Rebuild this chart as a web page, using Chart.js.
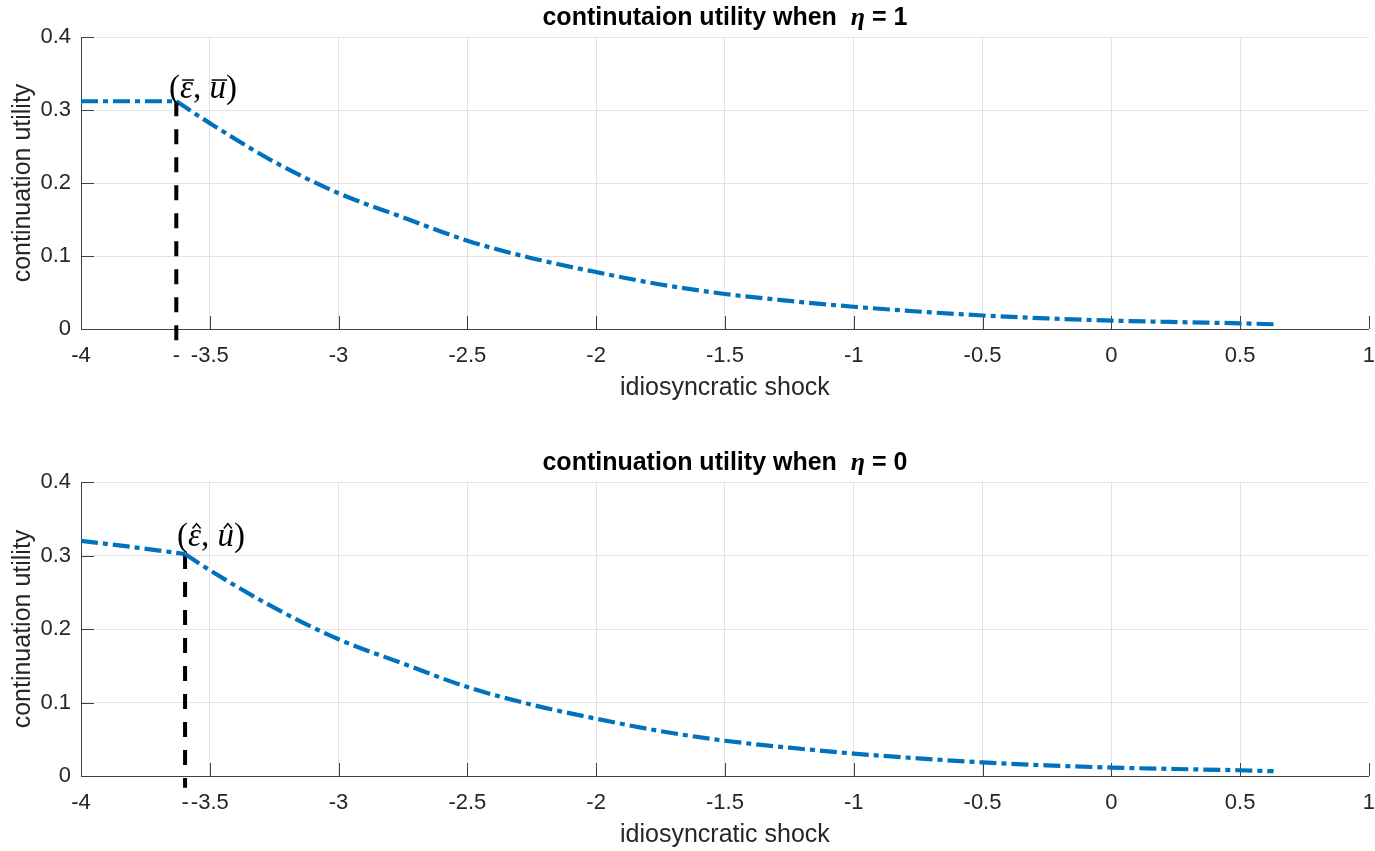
<!DOCTYPE html>
<html><head><meta charset="utf-8">
<script src="https://cdn.jsdelivr.net/npm/chart.js@4.4.0/dist/chart.umd.min.js"></script>
<style>
html,body{margin:0;padding:0;background:#fff;overflow:hidden;}
#wrap{position:relative;width:1375px;height:851px;overflow:hidden;background:#fff;}
.box{position:absolute;left:0;width:1389px;}
#b1{top:0;height:430px;}
#b2{top:430px;height:421px;}
</style></head><body>
<div id="wrap">
  <div class="box" id="b1"><canvas id="c1"></canvas></div>
  <div class="box" id="b2"><canvas id="c2"></canvas></div>
</div>
<script>
// ---- ticks ----
const xTicks = [-4, -3.5, -3, -2.5, -2, -1.5, -1, -0.5, 0, 0.5, 1];
const xTickLabels = ['-4', '-3.5', '-3', '-2.5', '-2', '-1.5', '-1', '-0.5', '0', '0.5', '1'];
const yTicks = [0, 0.1, 0.2, 0.3, 0.4];
const yTickLabels = ['0', '0.1', '0.2', '0.3', '0.4'];

// ---- top panel (eta = 1) ----
const topFlatX = [-4, -3.63];
const topFlatY = [0.312, 0.312];
const topCurveX = [-3.63, -3.5, -3.25, -3, -2.75, -2.5, -2.25, -2, -1.75, -1.5, -1.25, -1, -0.75, -0.5, -0.25, 0, 0.25, 0.5, 0.63];
const topCurveY = [0.312, 0.282, 0.229, 0.186, 0.153, 0.121, 0.097, 0.078, 0.061, 0.048, 0.0385, 0.0305, 0.024, 0.0185, 0.0145, 0.0115, 0.0095, 0.0078, 0.0065];
const topCutX = [-3.63, -3.63];
const topCutY = [0.312, -0.016];

// ---- bottom panel (eta = 0) ----
const botFlatX = [-4, -3.8, -3.596];
const botFlatY = [0.320, 0.3115, 0.302];
const botCurveX = [-3.596, -3.5, -3.25, -3, -2.75, -2.5, -2.25, -2, -1.75, -1.5, -1.25, -1, -0.75, -0.5, -0.25, 0, 0.25, 0.5, 0.63];
const botCurveY = [0.302, 0.280, 0.229, 0.186, 0.153, 0.121, 0.097, 0.078, 0.061, 0.048, 0.0385, 0.0305, 0.024, 0.0185, 0.0145, 0.0115, 0.0095, 0.0078, 0.0065];
const botCutX = [-3.596, -3.596];
const botCutY = [0.302, -0.016];

const BLUE = '#0072BD';
const TXT = '#262626';
const SANS = '"Liberation Sans", Arial, sans-serif';
const SERIF = '"Liberation Serif", "DejaVu Serif", serif';

function pts(xs, ys) { return xs.map((x, i) => ({ x: x, y: ys[i] })); }

const deco = {
  id: 'deco',
  beforeDatasetsDraw(chart) {
    const ctx = chart.ctx, ca = chart.chartArea, xs = chart.scales.x, ys = chart.scales.y;
    ctx.save();
    ctx.strokeStyle = '#404040';
    ctx.lineWidth = 1;
    ctx.beginPath();
    xTicks.forEach(v => {
      const px = Math.round(xs.getPixelForValue(v)) + 0.5;
      ctx.moveTo(px, ca.bottom); ctx.lineTo(px, ca.bottom - 13);
    });
    yTicks.forEach(v => {
      const py = Math.round(ys.getPixelForValue(v)) + 0.5;
      ctx.moveTo(ca.left, py); ctx.lineTo(ca.left + 13, py);
    });
    ctx.stroke();
    ctx.restore();
  },
  afterDraw(chart, args, o) {
    const ctx = chart.ctx, ca = chart.chartArea, xs = chart.scales.x, ys = chart.scales.y;
    ctx.save();
    // title
    const parts = [
      { t: o.titleA, f: 'bold 25px ' + SANS },
      { t: 'η', f: 'bold italic 26px ' + SERIF },
      { t: o.titleB, f: 'bold 25px ' + SANS }
    ];
    let w = 0;
    parts.forEach(p => { ctx.font = p.f; p.w = ctx.measureText(p.t).width; w += p.w; });
    let x = (ca.left + ca.right) / 2 - w / 2;
    const by = ca.top - 12;
    ctx.fillStyle = '#000';
    ctx.textBaseline = 'alphabetic';
    ctx.textAlign = 'left';
    parts.forEach(p => { ctx.font = p.f; ctx.fillText(p.t, x, by); x += p.w; });

    // stray dash under cut line
    ctx.font = '22px ' + SANS;
    ctx.fillStyle = TXT;
    ctx.textAlign = 'center';
    ctx.textBaseline = 'middle';
    ctx.fillText('-', xs.getPixelForValue(o.cutX), ca.bottom + 27);

    // point annotation
    let ax = xs.getPixelForValue(o.labX);
    const base = ys.getPixelForValue(o.labY);
    const fs = 33;
    const seq = [
      { t: '(', f: fs + 'px ' + SERIF },
      { t: 'ε', f: 'italic ' + fs + 'px ' + SERIF, acc: true },
      { t: ', ', f: fs + 'px ' + SERIF },
      { t: 'u', f: 'italic ' + fs + 'px ' + SERIF, acc: true },
      { t: ')', f: fs + 'px ' + SERIF }
    ];
    ctx.textAlign = 'left';
    ctx.textBaseline = 'alphabetic';
    ctx.fillStyle = '#000';
    ctx.strokeStyle = '#000';
    ctx.lineWidth = 1.5;
    seq.forEach(s => {
      ctx.font = s.f;
      const sw = ctx.measureText(s.t).width;
      ctx.fillText(s.t, ax, base);
      if (s.acc) {
        const top = base - 18;
        ctx.beginPath();
        if (o.accent === 'bar') {
          ctx.moveTo(ax + 2, top); ctx.lineTo(ax + sw + 1, top);
        } else {
          const cx = ax + sw / 2 + 2;
          ctx.moveTo(cx - 4, top + 1); ctx.lineTo(cx, top - 4); ctx.lineTo(cx + 4, top + 1);
        }
        ctx.stroke();
      }
      ax += sw;
    });
    ctx.restore();
  }
};

function makeChart(id, flatX, flatY, curveX, curveY, cutX, cutY, padTop, padBottom, deco_opts) {
  return new Chart(document.getElementById(id), {
    type: 'line',
    data: {
      datasets: [
        { data: pts(flatX, flatY), borderColor: BLUE, borderWidth: 4.2, borderDash: [17, 5, 5, 5], pointRadius: 0, tension: 0, borderCapStyle: 'butt' },
        { data: pts(curveX, curveY), borderColor: BLUE, borderWidth: 4.2, borderDash: [17, 5, 5, 5], pointRadius: 0, cubicInterpolationMode: 'monotone', borderCapStyle: 'butt' },
        { data: pts(cutX, cutY), borderColor: '#000', borderWidth: 4, borderDash: [15, 13], pointRadius: 0, tension: 0, clip: false, borderCapStyle: 'butt' }
      ]
    },
    options: {
      responsive: true,
      maintainAspectRatio: false,
      animation: false,
      events: [],
      layout: { padding: { top: padTop, bottom: padBottom, left: 0, right: 0 } },
      plugins: { legend: { display: false }, tooltip: { enabled: false }, deco: deco_opts },
      scales: {
        x: {
          type: 'linear', min: -4, max: 1,
          afterBuildTicks: s => { s.ticks = xTicks.map(v => ({ value: v })); },
          afterFit: s => { s.height = 74; },
          ticks: { callback: (v, i) => xTickLabels[i], color: TXT, font: { family: SANS, size: 22 }, padding: 14, maxRotation: 0, autoSkip: false },
          grid: { color: ctx => (ctx.tick && (ctx.tick.value === 1 || ctx.tick.value === -4)) ? 'rgba(0,0,0,0)' : '#e3e3e3', lineWidth: 1, drawTicks: false },
          border: { display: true, color: '#404040', width: 1 },
          title: { display: true, text: 'idiosyncratic shock', color: TXT, font: { family: SANS, size: 25 }, padding: { top: 0, bottom: 0 } }
        },
        y: {
          type: 'linear', min: 0, max: 0.4,
          afterBuildTicks: s => { s.ticks = yTicks.map(v => ({ value: v })); },
          afterFit: s => { s.width = 81; },
          ticks: { callback: (v, i) => yTickLabels[i], color: TXT, font: { family: SANS, size: 22 }, padding: 10 },
          grid: { color: ctx => (ctx.tick && ctx.tick.value === 0) ? 'rgba(0,0,0,0)' : '#e3e3e3', lineWidth: 1, drawTicks: false },
          border: { display: true, color: '#404040', width: 1 },
          title: { display: true, text: 'continuation utility', color: TXT, font: { family: SANS, size: 25 }, padding: { top: 8, bottom: 0 } }
        }
      }
    },
    plugins: [deco]
  });
}

makeChart('c1', topFlatX, topFlatY, topCurveX, topCurveY, topCutX, topCutY, 37, 27,
  { titleA: 'continutaion utility when  ', titleB: ' = 1', cutX: -3.63, labX: -3.658, labY: 0.3164, accent: 'bar' });
makeChart('c2', botFlatX, botFlatY, botCurveX, botCurveY, botCutX, botCutY, 52, 1,
  { titleA: 'continuation utility when  ', titleB: ' = 0', cutX: -3.596, labX: -3.627, labY: 0.3135, accent: 'hat' });
</script>
</body></html>
